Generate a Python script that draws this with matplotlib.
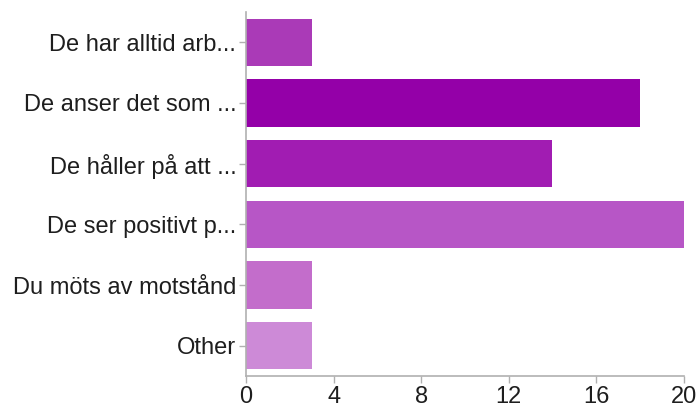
import matplotlib
matplotlib.use("Agg")
import matplotlib.pyplot as plt

categories = ["De har alltid arb...", "De anser det som ...", "De håller på att ...",
              "De ser positivt p...", "Du möts av motstånd", "Other"]
counts = [3, 18, 14, 20, 3, 3]
colors = ["#aa3ab7", "#9400a8", "#a11cb2", "#b756c6", "#c36dcb", "#cd8ad7"]
xticks = [0, 4, 8, 12, 16, 20]

plt.rcParams["font.family"] = ["Liberation Sans", "DejaVu Sans"]

fig = plt.figure(figsize=(6.97, 4.08), dpi=100)
ax = fig.add_axes([0.353, 0.0784, 0.628, 0.8922])

pos = list(range(len(categories)))
ax.barh(pos, counts, height=0.78, color=colors, edgecolor="none")
ax.set_ylim(len(categories) - 0.5, -0.5)
ax.set_xlim(0, 20)
ax.set_yticks(pos)
ax.set_yticklabels(categories, fontsize=17, color="#1e1e1e")
ax.set_xticks(xticks)
ax.set_xticklabels([str(t) for t in xticks], fontsize=17, color="#1e1e1e")

for side in ["top", "right"]:
    ax.spines[side].set_visible(False)
for side in ["left", "bottom"]:
    ax.spines[side].set_color("#b0b0b0")
    ax.spines[side].set_linewidth(1.2)
ax.tick_params(axis="both", color="#b0b0b0", length=5, width=1, pad=2)

fig.savefig("out.png", dpi=100)
